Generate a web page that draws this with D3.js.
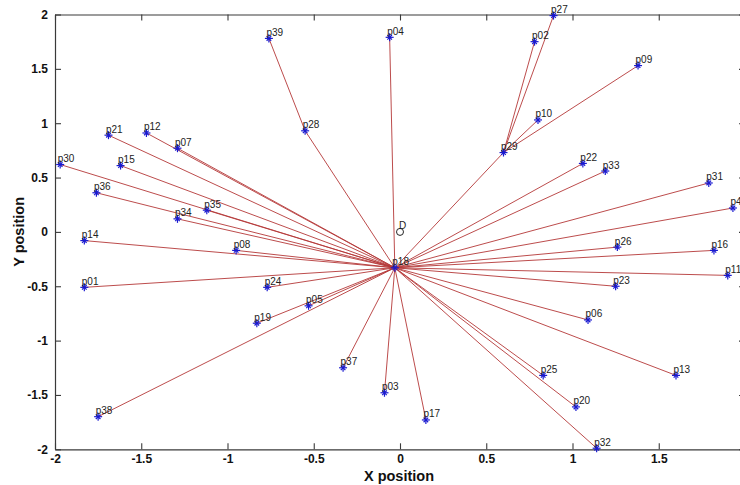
<!DOCTYPE html>
<html>
<head>
<meta charset="utf-8">
<script src="https://cdn.jsdelivr.net/npm/d3@7"></script>
<style>
  html, body { margin: 0; padding: 0; background: #fff; }
  svg { display: block; }
</style>
</head>
<body>
<svg id="chart" width="740" height="485"></svg>
<script>
// Sensor nodes: name and estimated position
const nodeNames = ["p01","p02","p03","p04","p05","p06","p07","p08","p09","p10",
                   "p11","p12","p13","p14","p15","p16","p17","p18","p19","p20",
                   "p21","p22","p23","p24","p25","p26","p27","p28","p29","p30",
                   "p31","p32","p33","p34","p35","p36","p37","p38","p39","p40"];
const nodeX = [-1.83, 0.78, -0.09, -0.06, -0.53, 1.09, -1.29, -0.95, 1.38, 0.80,
                1.90, -1.47, 1.60, -1.83, -1.62, 1.82, 0.15, -0.03, -0.83, 1.02,
               -1.69, 1.06, 1.25, -0.77, 0.83, 1.26, 0.89, -0.55, 0.60, -1.97,
                1.79, 1.14, 1.19, -1.29, -1.12, -1.76, -0.33, -1.75, -0.76, 1.93];
const nodeY = [-0.51, 1.75, -1.48, 1.79, -0.68, -0.81, 0.77, -0.17, 1.53, 1.03,
               -0.40, 0.91, -1.32, -0.08, 0.61, -0.17, -1.73, -0.33, -0.84, -1.61,
                0.89, 0.63, -0.50, -0.51, -1.32, -0.14, 1.99, 0.93, 0.73, 0.62,
                0.45, -1.99, 0.56, 0.12, 0.20, 0.36, -1.25, -1.70, 1.78, 0.22];

// Each node's next hop toward the sink p18 (null for the sink itself)
const nextHop = ["p18","p29","p18","p18","p18","p18","p18","p18","p29","p29",
                 "p18","p18","p18","p18","p18","p18","p18", null,"p18","p18",
                 "p18","p18","p18","p18","p18","p18","p29","p18","p18","p18",
                 "p18","p18","p18","p18","p18","p18","p18","p18","p28","p18"];

// Reference point D
const refName = "D";
const refX = 0.0;
const refY = 0.0;

// Axis settings (the x = 2 edge falls just outside the page)
const xDomain = [-2, 2];
const yDomain = [-2, 2];
const xTicks = [-2, -1.5, -1, -0.5, 0, 0.5, 1, 1.5];
const yTicks = [-2, -1.5, -1, -0.5, 0, 0.5, 1, 1.5, 2];
const xLabel = "X position";
const yLabel = "Y position";

const svg = d3.select("#chart");
const plotLeft = 55, plotRight = 745, plotTop = 14.5, plotBottom = 449.3;

const x = d3.scaleLinear().domain(xDomain).range([plotLeft, plotRight]);
const y = d3.scaleLinear().domain(yDomain).range([plotBottom, plotTop]);

const nodes = nodeNames.map((n, i) => ({ name: n, x: nodeX[i], y: nodeY[i], next: nextHop[i] }));
const byName = new Map(nodes.map(d => [d.name, d]));
const links = nodes.filter(d => d.next).map(d => ({ s: d, t: byName.get(d.next) }));

const fmt = d => String(d);
const axisColor = "#3a3a3a";
const fontFamily = "Liberation Sans, Arial, sans-serif";

// Axes with inward ticks on all four sides
function styleAxis(g) {
  g.select(".domain").attr("stroke", axisColor).attr("stroke-width", 1.2);
  g.selectAll(".tick line").attr("stroke", axisColor).attr("stroke-width", 1.1);
  g.selectAll(".tick text")
    .attr("fill", "#111")
    .attr("font-family", fontFamily)
    .attr("font-weight", "bold")
    .attr("font-size", 12);
}

svg.append("g")
  .attr("transform", `translate(0,${plotBottom})`)
  .call(d3.axisBottom(x).tickValues(xTicks).tickFormat(fmt).tickSizeInner(-6).tickSizeOuter(0).tickPadding(5))
  .call(styleAxis);

svg.append("g")
  .attr("transform", `translate(0,${plotTop})`)
  .call(d3.axisTop(x).tickValues(xTicks).tickFormat("").tickSizeInner(-6).tickSizeOuter(0))
  .call(styleAxis);

svg.append("g")
  .attr("transform", `translate(${plotLeft},0)`)
  .call(d3.axisLeft(y).tickValues(yTicks).tickFormat(fmt).tickSizeInner(-6).tickSizeOuter(0).tickPadding(7))
  .call(styleAxis);

svg.append("g")
  .attr("transform", `translate(${plotRight},0)`)
  .call(d3.axisRight(y).tickValues(yTicks).tickFormat("").tickSizeInner(-6).tickSizeOuter(0))
  .call(styleAxis);

// Axis titles
svg.append("text")
  .attr("x", (plotLeft + plotRight) / 2 - 1).attr("y", 481)
  .attr("text-anchor", "middle")
  .attr("font-family", fontFamily)
  .attr("font-weight", "bold").attr("font-size", 14.5).attr("fill", "#111")
  .text(xLabel);

svg.append("text")
  .attr("transform", `translate(24,${(plotTop + plotBottom) / 2}) rotate(-90)`)
  .attr("text-anchor", "middle")
  .attr("font-family", fontFamily)
  .attr("font-weight", "bold").attr("font-size", 14.5).attr("fill", "#111")
  .text(yLabel);

// Routing links
svg.append("g").selectAll("line")
  .data(links).join("line")
  .attr("x1", d => x(d.s.x)).attr("y1", d => y(d.s.y))
  .attr("x2", d => x(d.t.x)).attr("y2", d => y(d.t.y))
  .attr("stroke", "#b53838").attr("stroke-width", 1).attr("stroke-opacity", 0.9);

// Reference point marker and label
svg.append("circle")
  .attr("cx", x(refX)).attr("cy", y(refY)).attr("r", 3.5)
  .attr("fill", "none").attr("stroke", "#222").attr("stroke-width", 1);
svg.append("text")
  .attr("x", x(refX) - 1).attr("y", y(refY) - 2.5)
  .attr("font-family", fontFamily)
  .attr("font-size", 10).attr("fill", "#222")
  .text(refName);

// Node markers (asterisks)
const star = svg.append("g").selectAll("g")
  .data(nodes).join("g")
  .attr("transform", d => `translate(${x(d.x)},${y(d.y)})`)
  .attr("stroke", "#1a1ad0").attr("stroke-width", 1.2);
star.append("line").attr("x1", -4).attr("x2", 4).attr("y1", 0).attr("y2", 0);
star.append("line").attr("x1", 0).attr("x2", 0).attr("y1", -4).attr("y2", 4);
star.append("line").attr("x1", -2.3).attr("x2", 2.3).attr("y1", -2.3).attr("y2", 2.3);
star.append("line").attr("x1", -2.3).attr("x2", 2.3).attr("y1", 2.3).attr("y2", -2.3);

// Node labels
svg.append("g").selectAll("text")
  .data(nodes).join("text")
  .attr("x", d => x(d.x) - 2.5).attr("y", d => y(d.y) - 2.5)
  .attr("font-family", fontFamily)
  .attr("font-size", 10).attr("fill", "#222")
  .text(d => d.name);
</script>
</body>
</html>
